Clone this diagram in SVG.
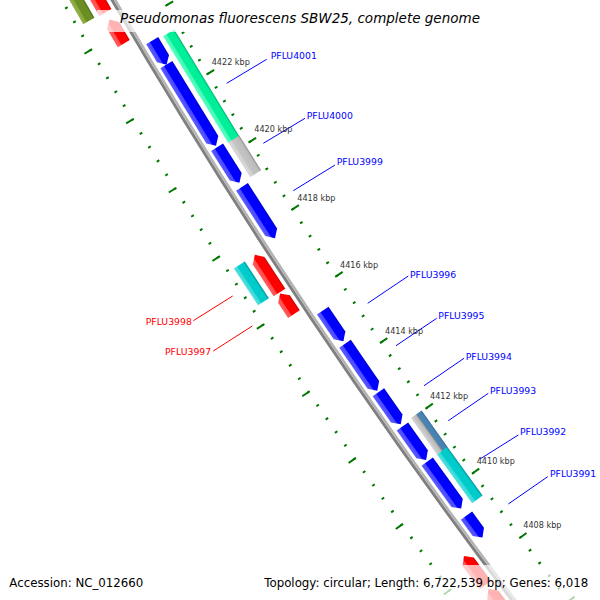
<svg xmlns="http://www.w3.org/2000/svg" width="600" height="600" viewBox="0 0 600 600">
<style>
.tk{fill:none;stroke:#007800;stroke-dashoffset:1}
.tl{font-family:'DejaVu Sans',sans-serif;font-size:8.1px;fill:#333}
.gl{font-family:'DejaVu Sans',sans-serif;font-size:9.3px}
.lb{fill:#0000ff}.lr{fill:#ff0000}
.cb{stroke:#0000ff;stroke-width:1}.cr{stroke:#ff0000;stroke-width:1}
.fb{fill:url(#gBlue)}.fr{fill:url(#gRed)}.fc{fill:url(#gCyan)}.fg{fill:url(#gGreen)}
.fy{fill:url(#gGray)}.fo{fill:url(#gOlive)}.fs{fill:url(#gSteel)}
.lg{font-family:'DejaVu Sans',sans-serif;font-size:11.8px;fill:#000}
</style>
<defs>
<linearGradient id="gBlue"><stop offset="0" stop-color="#0000c0"/><stop offset=".12" stop-color="#0000ff"/><stop offset=".66" stop-color="#0000ff"/><stop offset=".72" stop-color="#4848ff"/><stop offset="1" stop-color="#5c5cff"/></linearGradient>
<linearGradient id="gRed"><stop offset="0" stop-color="#c80000"/><stop offset=".12" stop-color="#ff0000"/><stop offset=".66" stop-color="#ff0000"/><stop offset=".72" stop-color="#ff4a4a"/><stop offset="1" stop-color="#ff5e5e"/></linearGradient>
<linearGradient id="gCyan"><stop offset="0" stop-color="#008f8f"/><stop offset=".15" stop-color="#00caca"/><stop offset=".66" stop-color="#00cccc"/><stop offset=".72" stop-color="#33d8d8"/><stop offset="1" stop-color="#55e0e0"/></linearGradient>
<linearGradient id="gGreen"><stop offset="0" stop-color="#00b070"/><stop offset=".15" stop-color="#00ee98"/><stop offset=".66" stop-color="#00f09a"/><stop offset=".72" stop-color="#40f8b4"/><stop offset="1" stop-color="#5cffc0"/></linearGradient>
<linearGradient id="gGray"><stop offset="0" stop-color="#8c8c8c"/><stop offset=".15" stop-color="#bcbcbc"/><stop offset=".66" stop-color="#c4c4c4"/><stop offset=".72" stop-color="#d0d0d0"/><stop offset="1" stop-color="#dadada"/></linearGradient>
<linearGradient id="gOlive"><stop offset="0" stop-color="#4d6b18"/><stop offset=".15" stop-color="#6b8e23"/><stop offset=".66" stop-color="#6b8e23"/><stop offset=".72" stop-color="#86a63c"/><stop offset="1" stop-color="#93b24a"/></linearGradient>
<linearGradient id="gSteel"><stop offset="0" stop-color="#2e5e88"/><stop offset=".12" stop-color="#4682b4"/><stop offset=".45" stop-color="#4a84b4"/><stop offset=".5" stop-color="#8a8a8a"/><stop offset=".58" stop-color="#b8b8b8"/><stop offset="1" stop-color="#d4d4d4"/></linearGradient>
</defs>

<g id="map" transform="translate(5296,-3021) rotate(146)">
  <g id="ticks">
    <path class="tk" d="M5939.29 439.15A5955.5 5955.5 0 0 0 5936.21-478.99" stroke-width="3" stroke-dasharray="2 13.9835"/>
    <path class="tk" d="M5935.80 438.90A5952 5952 0 0 0 5932.72-478.71" stroke-width="8" stroke-dasharray="2 77.870"/>
    <path class="tk" d="M6027.05 445.64A6043.5 6043.5 0 0 0 6023.92-486.07" stroke-width="3" stroke-dasharray="2 14.2197"/>
    <path class="tk" d="M6030.54 445.90A6047 6047 0 0 0 6027.41-486.35" stroke-width="8" stroke-dasharray="2 79.145"/>
  </g>
  <g id="backbone" fill="none">
    <path d="M5983.67 442.43A6000 6000 0 0 0 5980.56-482.57" stroke="#808080" stroke-width="3"/>
    <path d="M5980.92 442.23A5997.25 5997.25 0 0 0 5977.82-482.35" stroke="#b4b4b4" stroke-width="2.5"/>
  </g>
  <g id="features">
    <g id="b1" transform="rotate(3.10404)"><path class="fb" d="M5979 14H5993V-7L5986-14L5979-7Z"/></g>
    <g id="PFLU4001" transform="rotate(2.51666)"><path class="fb" d="M5979 47.5H5993V-40.5L5986-47.5L5979-40.5Z"/></g>
    <g id="b3" transform="rotate(1.84332)"><path class="fb" d="M5979 21H5993V-14L5986-21L5979-14Z"/></g>
    <g id="PFLU3999" transform="rotate(1.30370)"><path class="fb" d="M5979 30.5H5993V-23.5L5986-30.5L5979-23.5Z"/></g>
    <g id="PFLU3996" transform="rotate(0.00478)"><path class="fb" d="M5979 18.5H5993V-11.5L5986-18.5L5979-11.5Z"/></g>
    <g id="PFLU3995" transform="rotate(-0.47277)"><path class="fb" d="M5979 28.5H5993V-21.5L5986-28.5L5979-21.5Z"/></g>
    <g id="PFLU3994" transform="rotate(-0.95031)"><path class="fb" d="M5979 19.5H5993V-12.5L5986-19.5L5979-12.5Z"/></g>
    <g id="b8" transform="rotate(-1.36100)"><path class="fb" d="M5979 20.5H5993V-13.5L5986-20.5L5979-13.5Z"/></g>
    <g id="b9" transform="rotate(-1.85287)"><path class="fb" d="M5979 29H5993V-22L5986-29L5979-22Z"/></g>
    <g id="PFLU3991" transform="rotate(-2.34475)"><path class="fb" d="M5979 13.5H5993V-6.5L5986-13.5L5979-6.5Z"/></g>

    <g id="g1" transform="rotate(2.62172)"><rect class="fg" x="5961" y="-62.5" width="13" height="125"/></g>
    <g id="PFLU4000" transform="rotate(1.82900)"><rect class="fy" x="5961" y="-20.5" width="13" height="41"/></g>
    <g id="PFLU3993" transform="rotate(-1.36100)"><rect class="fs" x="5961" y="-22.5" width="13" height="45"/></g>
    <g id="PFLU3992" transform="rotate(-1.86243)"><rect class="fc" x="5961" y="-30" width="13" height="60"/></g>

    <g id="ra" transform="rotate(3.94930)"><path class="fr" d="M6005-26.5H6019V19.5L6012 26.5L6005 19.5Z"/></g>
    <g id="rb" transform="rotate(3.48608)"><path class="fr" d="M6005-14H6019V7L6012 14L6005 7Z"/></g>
    <g id="r1" transform="rotate(0.76885)"><path class="fr" d="M6005-22.5H6019V15.5L6012 22.5L6005 15.5Z"/></g>
    <g id="PFLU3997" transform="rotate(0.42502)"><path class="fr" d="M6005-12.5H6019V5.5L6012 12.5L6005 5.5Z"/></g>
    <g id="rc" transform="rotate(-2.68380)"><path class="fr" d="M6005-18H6019V11L6012 18L6005 11Z"/></g>
    <g id="rd" transform="rotate(-3.12314)"><path class="fr" d="M6005-23H6019V16L6012 23L6005 16Z"/></g>

    <g id="olive" transform="rotate(4.00183)"><rect class="fo" x="6024" y="-31" width="13" height="62"/></g>
    <g id="PFLU3998" transform="rotate(0.77362)"><rect class="fc" x="6024" y="-22" width="13" height="44"/></g>
  </g>
</g>

<g id="connectors">
  <line class="cb" x1="226.7" y1="83.3" x2="266.7" y2="59.3"/>
  <line class="cb" x1="263.3" y1="143.3" x2="305" y2="118.3"/>
  <line class="cb" x1="293.3" y1="190.7" x2="335" y2="165"/>
  <line class="cb" x1="367.7" y1="303.3" x2="408.3" y2="276"/>
  <line class="cb" x1="396" y1="345.7" x2="436.7" y2="318.3"/>
  <line class="cb" x1="424" y1="385.7" x2="464" y2="358.3"/>
  <line class="cb" x1="448.3" y1="420.7" x2="488.3" y2="393.3"/>
  <line class="cb" x1="480" y1="459" x2="518.3" y2="435"/>
  <line class="cb" x1="508.3" y1="504" x2="547.7" y2="476.7"/>
  <line class="cr" x1="193.3" y1="320.7" x2="232.7" y2="296"/>
  <line class="cr" x1="213.3" y1="351" x2="252.3" y2="326"/>
</g>

<g id="tick-labels">
  <text class="tl" x="211.7" y="64.5">4422 kbp</text>
  <text class="tl" x="254.3" y="132.3">4420 kbp</text>
  <text class="tl" x="297.3" y="200.5">4418 kbp</text>
  <text class="tl" x="340" y="267.5">4416 kbp</text>
  <text class="tl" x="385" y="333.5">4414 kbp</text>
  <text class="tl" x="430" y="399">4412 kbp</text>
  <text class="tl" x="476.7" y="464">4410 kbp</text>
  <text class="tl" x="523.3" y="528.3">4408 kbp</text>
</g>

<g id="gene-labels">
  <text class="gl lb" x="270.7" y="58.5">PFLU4001</text>
  <text class="gl lb" x="306.7" y="118.5">PFLU4000</text>
  <text class="gl lb" x="336.7" y="165.3">PFLU3999</text>
  <text class="gl lb" x="410" y="277.5">PFLU3996</text>
  <text class="gl lb" x="438.3" y="318.5">PFLU3995</text>
  <text class="gl lb" x="465.7" y="359.5">PFLU3994</text>
  <text class="gl lb" x="490" y="393.5">PFLU3993</text>
  <text class="gl lb" x="520" y="435.3">PFLU3992</text>
  <text class="gl lb" x="550" y="477">PFLU3991</text>
  <text class="gl lr" x="145.7" y="325.3">PFLU3998</text>
  <text class="gl lr" x="165" y="355.3">PFLU3997</text>
</g>

<g id="legend">
  <rect x="97" y="10" width="406" height="22" fill="#fff" fill-opacity="0.7"/>
  <text x="300" y="22.7" text-anchor="middle" font-family="'DejaVu Sans',sans-serif" font-style="italic" font-size="13.5" fill="#000">Pseudomonas fluorescens SBW25, complete genome</text>
  <rect x="0" y="565" width="155" height="35" fill="#fff" fill-opacity="0.7"/>
  <rect x="245" y="565" width="355" height="35" fill="#fff" fill-opacity="0.7"/>
  <text class="lg" x="9.3" y="586.7">Accession: NC_012660</text>
  <text class="lg" x="588.3" y="586.7" text-anchor="end">Topology: circular; Length: 6,722,539 bp; Genes: 6,018</text>
</g>
</svg>
